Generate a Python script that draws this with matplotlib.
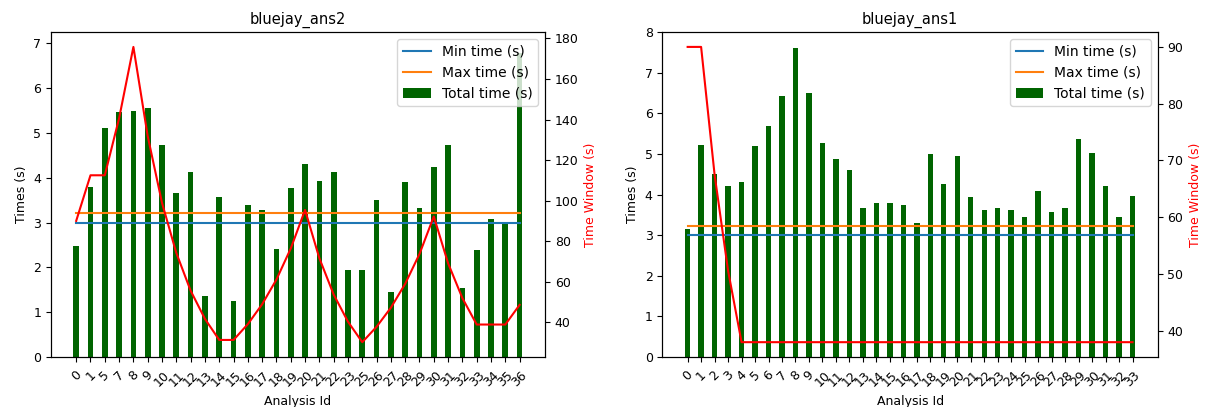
import numpy as np
import matplotlib
matplotlib.use('Agg')
import matplotlib.pyplot as plt

plt.rcParams['font.size'] = 9

# bluejay_ans2
ids_ans2 = [0, 1, 5, 7, 8, 9, 10, 11, 12, 13, 14, 15, 16, 17, 18, 19, 20, 21,
            22, 23, 25, 26, 27, 28, 29, 30, 31, 32, 33, 34, 35, 36]
total_ans2 = [2.47, 3.8, 5.1, 5.47, 5.5, 5.55, 4.72, 3.65, 4.13, 1.35, 3.57, 1.25,
              3.4, 3.27, 2.42, 3.76, 4.3, 3.93, 4.12, 1.93, 1.93, 3.5, 1.45, 3.9,
              3.33, 4.25, 4.73, 1.53, 2.38, 3.08, 3.0, 6.78]
window_ans2 = [90, 112.5, 112.5, 140.6, 175.8, 131.8, 98.9, 74.2, 55.6, 41.7, 31.3,
               31.3, 39.1, 48.9, 61.1, 76.4, 95.4, 71.6, 53.7, 40.3, 30.2, 37.8,
               47.2, 59.0, 73.7, 92.2, 69.1, 51.9, 38.9, 38.9, 38.9, 48.6]
min_ans2 = 3.0
max_ans2 = 3.22

# bluejay_ans1
ids_ans1 = list(range(34))
total_ans1 = [3.15, 5.22, 4.5, 4.2, 4.3, 5.2, 5.68, 6.42, 7.62, 6.5, 5.27, 4.87,
              4.6, 3.68, 3.8, 3.8, 3.75, 3.3, 5.0, 4.27, 4.95, 3.93, 3.63, 3.67,
              3.63, 3.45, 4.1, 3.58, 3.67, 5.37, 5.02, 4.2, 3.45, 3.97]
window_ans1 = [90, 90, 67.5, 50.6, 38, 38, 38, 38, 38, 38, 38, 38, 38, 38, 38, 38,
               38, 38, 38, 38, 38, 38, 38, 38, 38, 38, 38, 38, 38, 38, 38, 38, 38, 38]
min_ans1 = 3.0
max_ans1 = 3.22


def draw(ax, title, ids, total, window, tmin, tmax, ytop=None):
    x = np.arange(len(ids))
    l1, = ax.plot(x, np.full(len(x), tmin), color='tab:blue', label='Min time (s)')
    l2, = ax.plot(x, np.full(len(x), tmax), color='tab:orange', label='Max time (s)')
    b = ax.bar(x, total, width=0.4, color='darkgreen', label='Total time (s)')
    ax.set_xticks(x)
    ax.set_xticklabels([str(i) for i in ids], rotation=45)
    ax.tick_params(axis='x', pad=5)
    ax.set_xlabel('Analysis Id')
    ax.set_ylabel('Times (s)')
    ax.set_title(title, fontsize=10.5)
    if ytop is not None:
        ax.set_ylim(0, ytop)
    ax.legend(handles=[l1, l2, b], loc='upper right', fontsize=10)
    ax2 = ax.twinx()
    ax2.plot(x, window, color='red')
    ax2.set_ylabel('Time Window (s)', color='red')


fig = plt.figure(figsize=(12.11, 4.07), dpi=100)
ax_l = fig.add_axes([0.042, 0.123, 0.408, 0.798])
ax_r = fig.add_axes([0.547, 0.123, 0.409, 0.798])

draw(ax_l, 'bluejay_ans2', ids_ans2, total_ans2, window_ans2, min_ans2, max_ans2, ytop=7.25)
draw(ax_r, 'bluejay_ans1', ids_ans1, total_ans1, window_ans1, min_ans1, max_ans1)

fig.savefig('out.png', dpi=100)
